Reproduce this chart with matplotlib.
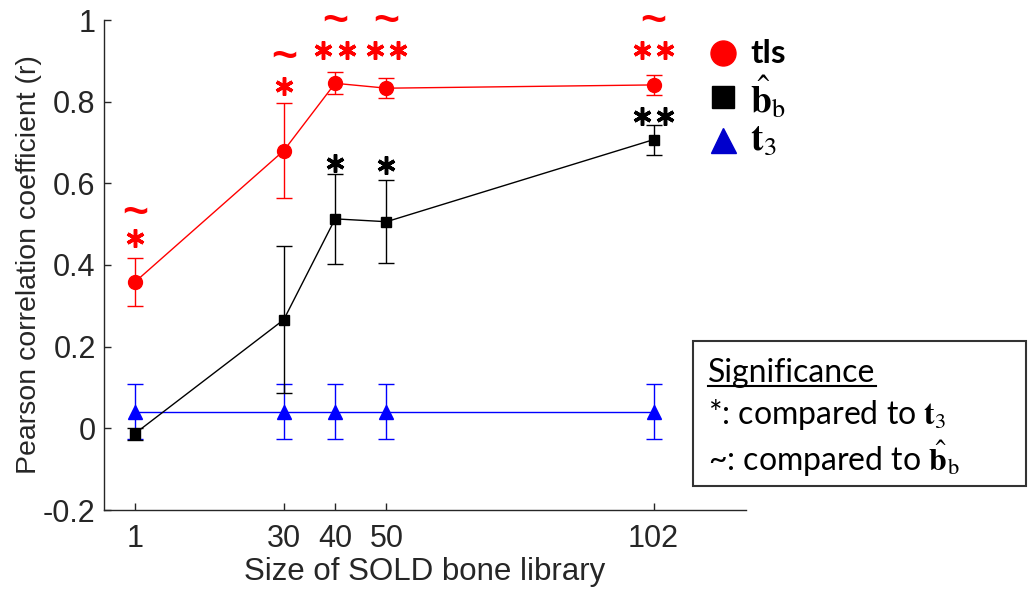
import matplotlib
matplotlib.use("Agg")
import matplotlib.pyplot as plt
from matplotlib.lines import Line2D
from matplotlib.patches import Rectangle

plt.rcParams['mathtext.fontset'] = 'stix'

# ---- data ----
sizes = [1, 30, 40, 50, 102]
tls_mean = [0.358, 0.680, 0.845, 0.833, 0.841]
tls_err = [0.058, 0.117, 0.027, 0.025, 0.025]
bb_mean = [-0.013, 0.266, 0.513, 0.506, 0.707]
bb_err = [0.015, 0.180, 0.110, 0.102, 0.037]
t3_mean = [0.041, 0.041, 0.041, 0.041, 0.041]
t3_err = [0.068, 0.068, 0.068, 0.068, 0.068]

# significance marks: (x, y, count)
red_star_marks = [(1, 0.466, 1), (30, 0.839, 1), (40, 0.927, 2), (50, 0.927, 2), (102, 0.927, 2)]
red_tilde_marks = [(1, 0.527), (30, 0.907), (40, 0.996), (50, 0.996), (102, 0.996)]
black_star_marks = [(40, 0.650, 1), (50, 0.645, 1), (102, 0.765, 2)]

xticks = [1, 30, 40, 50, 102]
yticks = [-0.2, 0, 0.2, 0.4, 0.6, 0.8, 1]
ytick_labels = ['-0.2', '0', '0.2', '0.4', '0.6', '0.8', '1']

fig = plt.figure(figsize=(10.29, 5.91), dpi=100)
ax = fig.add_axes([104/1029, 1-510/591, (746-104)/1029, (510-20)/591])

RED = '#ff0000'
BLUE = '#0000ff'
DARK = '#262626'

ax.errorbar(sizes, t3_mean, yerr=t3_err, color=BLUE, marker='^', markersize=10,
            lw=1.0, elinewidth=1.0, capsize=6, capthick=1.0, zorder=3)
ax.errorbar(sizes, bb_mean, yerr=bb_err, color='black', marker='s', markersize=7,
            lw=1.0, elinewidth=1.0, capsize=6, capthick=1.0, zorder=4)
ax.errorbar(sizes, tls_mean, yerr=tls_err, color=RED, marker='o', markersize=10,
            lw=1.0, elinewidth=1.0, capsize=6, capthick=1.0, zorder=5)

def stars(marks, color):
    for x, y, n in marks:
        if n == 1:
            xs = [x]
        else:
            xs = [x - 2.3, x + 2.3]
        ax.plot(xs, [y]*len(xs), linestyle='none', marker=(6, 2, 0), markersize=13,
                markeredgewidth=2.5, color=color, clip_on=False, zorder=6)

stars(red_star_marks, RED)
stars(black_star_marks, 'black')
for x, y in red_tilde_marks:
    ax.text(x, y, '~', color=RED, fontsize=32, fontweight='bold', ha='center', va='center',
            family='Liberation Sans', clip_on=False)

ax.set_xlim(-5, 120)
ax.set_ylim(-0.2, 1)
ax.set_xticks(xticks)
ax.set_xticklabels([str(v) for v in xticks])
ax.set_yticks(yticks)
ax.set_yticklabels(ytick_labels)
ax.tick_params(direction='in', length=5, width=1, labelsize=22, colors=DARK)
ax.tick_params(axis='x', pad=10)
ax.tick_params(axis='y', pad=6)
for lab in ax.get_xticklabels() + ax.get_yticklabels():
    lab.set_family('Liberation Sans')
ax.spines['top'].set_visible(False)
ax.spines['right'].set_visible(False)
for s in ['left', 'bottom']:
    ax.spines[s].set_color(DARK)
    ax.spines[s].set_linewidth(1.0)
ax.set_xlabel('Size of SOLD bone library', fontsize=22.5, family='Liberation Sans', color=DARK, labelpad=2)
ax.set_ylabel('Pearson correlation coefficient (r)', fontsize=20.5, family='Liberation Sans', color=DARK, labelpad=1)

# legend (manual)
leg_rows = [(0.910, 'o', RED, 'tls', 24), (0.836, 's', 'black', r'$\hat{\mathbf{b}}_{\mathrm{b}}$', 27),
            (0.763, '^', '#0000cc', r'$\mathbf{t}_{3}$', 27)]
for y, m, c, lab, fs in leg_rows:
    fig.add_artist(Line2D([723/1029], [y], transform=fig.transFigure, marker=m,
                          markersize=18 if m != 's' else 16, color=c, linestyle='none'))
    fig.text(750/1029, y, lab, fontsize=fs, fontweight='bold', family='Lato',
             va='center', ha='left')

# significance box
fig.add_artist(Rectangle((693/1029, 1-486/591), (1026-693)/1029, (486-341)/591,
                         transform=fig.transFigure, fill=False, edgecolor='#333333', lw=1.5))
fig.text(708/1029, 1-382/591, 'Significance', fontsize=23, family='Lato', va='baseline', ha='left')
fig.add_artist(Line2D([708/1029, 876/1029], [1-386/591, 1-386/591], transform=fig.transFigure,
                      color='black', lw=1.5))
fig.text(708/1029, 1-424/591, r'*: compared to $\mathbf{t}_{3}$', fontsize=23, family='Lato',
         va='baseline', ha='left')
fig.text(708/1029, 1-471/591, r'~: compared to $\hat{\mathbf{b}}_{\mathrm{b}}$', fontsize=23,
         family='Lato', va='baseline', ha='left')

fig.savefig('out.png', dpi=100)
